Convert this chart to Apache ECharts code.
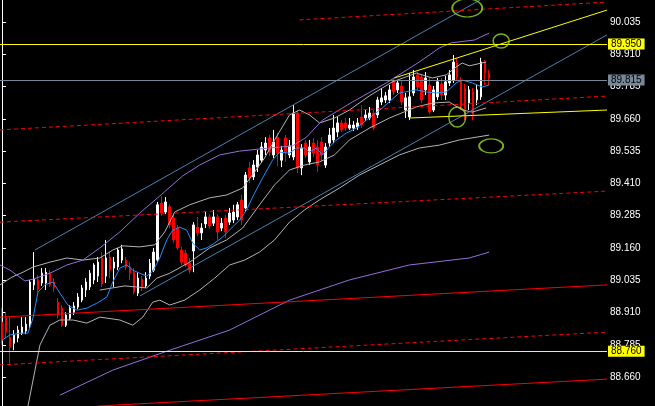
<!DOCTYPE html>
<html><head><meta charset="utf-8">
<script src="https://cdn.jsdelivr.net/npm/echarts@6/dist/echarts.min.js"></script>
<style>html,body{margin:0;padding:0;background:#000}#c{width:655px;height:406px}</style>
</head><body><div id="c"></div>
<script>
// ---- data ----
const Y_MIN = 88.548, Y_MAX = 90.120;
const TICKS = [88.660, 88.785, 88.910, 89.035, 89.160, 89.285, 89.410, 89.535, 89.660, 89.785, 89.910, 90.035];
const SLOTS = 152;
// [open, close, low, high]
const candles = [
[88.873,88.803,88.784,88.927],[88.888,88.834,88.811,88.911],[88.815,88.776,88.707,88.892],[88.791,88.823,88.764,88.842],
[88.811,88.842,88.795,88.858],[88.830,88.854,88.823,88.892],[88.838,88.865,88.826,88.892],[88.858,89.028,88.850,89.036],
[89.017,89.039,88.997,89.144],[89.036,89.001,88.989,89.055],[89.024,89.062,89.013,89.082],[89.024,89.066,88.997,89.082],
[89.062,89.017,89.009,89.074],[89.028,89.005,88.989,89.043],[88.950,88.900,88.888,88.966],[88.927,88.861,88.854,88.939],
[88.861,88.900,88.854,88.911],[88.888,88.927,88.881,88.939],[88.911,88.935,88.900,88.950],[88.931,88.970,88.923,88.985],
[88.958,89.005,88.950,89.017],[88.997,89.028,88.970,89.043],[89.009,89.062,88.997,89.074],[89.036,89.094,89.020,89.101],
[89.051,89.105,89.028,89.125],[89.121,89.020,89.009,89.144],[89.051,89.121,89.024,89.191],[89.125,89.074,89.043,89.144],
[89.082,89.105,89.009,89.125],[89.086,89.152,89.074,89.160],[89.113,89.156,89.101,89.172],[89.113,89.086,89.074,89.125],
[89.086,89.062,89.036,89.105],[89.066,88.989,88.981,89.082],[88.985,89.043,88.974,89.066],[89.039,89.005,88.993,89.051],
[89.013,89.043,89.005,89.066],[89.051,89.101,89.039,89.117],[89.074,89.144,89.066,89.160],[89.113,89.327,89.105,89.338],
[89.334,89.295,89.284,89.361],[89.299,89.338,89.291,89.357],[89.319,89.249,89.237,89.327],[89.276,89.191,89.179,89.288],
[89.237,89.160,89.152,89.249],[89.152,89.105,89.094,89.164],[89.140,89.094,89.086,89.152],[89.101,89.074,89.062,89.121],
[89.148,89.249,89.066,89.260],[89.241,89.218,89.206,89.280],[89.218,89.237,89.191,89.256],[89.253,89.280,89.237,89.299],
[89.280,89.245,89.233,89.291],[89.256,89.280,89.245,89.307],[89.280,89.222,89.191,89.291],[89.237,89.256,89.225,89.276],
[89.276,89.222,89.198,89.288],[89.260,89.295,89.249,89.315],[89.268,89.299,89.256,89.327],[89.280,89.327,89.268,89.338],
[89.346,89.268,89.249,89.365],[89.315,89.442,89.299,89.454],[89.470,89.431,89.411,89.493],[89.435,89.481,89.423,89.500],
[89.473,89.520,89.454,89.539],[89.500,89.551,89.489,89.570],[89.539,89.566,89.520,89.589],[89.586,89.531,89.516,89.597],
[89.520,89.570,89.508,89.617],[89.589,89.527,89.477,89.605],[89.500,89.539,89.473,89.555],[89.586,89.531,89.493,89.597],
[89.520,89.555,89.508,89.578],[89.512,89.682,89.500,89.713],[89.682,89.470,89.450,89.694],[89.470,89.547,89.442,89.562],
[89.566,89.520,89.508,89.578],[89.493,89.551,89.481,89.578],[89.566,89.527,89.512,89.586],[89.551,89.481,89.454,89.578],
[89.570,89.520,89.497,89.589],[89.481,89.551,89.470,89.566],[89.566,89.597,89.551,89.624],[89.578,89.624,89.566,89.675],
[89.609,89.644,89.589,89.667],[89.644,89.617,89.609,89.655],[89.644,89.624,89.613,89.663],[89.624,89.636,89.617,89.663],
[89.624,89.636,89.613,89.651],[89.628,89.644,89.617,89.663],[89.667,89.636,89.624,89.713],[89.663,89.675,89.651,89.694],
[89.663,89.682,89.655,89.706],[89.682,89.624,89.617,89.694],[89.675,89.733,89.663,89.745],[89.725,89.741,89.713,89.779],
[89.733,89.749,89.721,89.764],[89.733,89.772,89.721,89.791],[89.810,89.764,89.752,89.818],[89.772,89.799,89.760,89.810],
[89.787,89.725,89.713,89.810],[89.694,89.741,89.663,89.760],[89.667,89.745,89.655,89.837],[89.760,89.822,89.749,89.849],
[89.830,89.783,89.772,89.841],[89.822,89.733,89.721,89.834],[89.772,89.818,89.752,89.841],[89.791,89.686,89.679,89.822],
[89.694,89.772,89.686,89.787],[89.745,89.803,89.733,89.818],[89.795,89.752,89.733,89.818],[89.752,89.803,89.733,89.826],
[89.799,89.830,89.787,89.849],[89.810,89.880,89.799,89.907],[89.876,89.822,89.810,89.896],[89.810,89.706,89.694,89.822],
[89.779,89.667,89.655,89.795],[89.721,89.772,89.694,89.787],[89.764,89.675,89.655,89.779],[89.733,89.772,89.713,89.791],
[89.745,89.880,89.733,89.896],[89.880,89.837,89.791,89.888],[89.837,89.818,89.791,89.849]
];
// indicator lines: [bar index, price]
const maBlue = [[0,88.803],[2,88.823],[4.5,88.830],[6.5,88.830],[7.75,88.888],[9,88.989],[10.75,89.017],[12.75,89.028],[14.5,88.985],[16.5,88.939],[18.75,88.919],[21.25,88.927],[23.75,88.946],[26.25,88.970],[27.75,89.028],[29.5,89.082],[31.25,89.094],[32.75,89.074],[34.5,89.062],[36.25,89.051],[37.75,89.070],[39.5,89.121],[41.25,89.191],[42.75,89.229],[44.5,89.241],[46.25,89.229],[47.75,89.179],[49.5,89.152],[51.25,89.160],[53.25,89.179],[55.25,89.202],[57.75,89.241],[59.5,89.268],[61.25,89.307],[62.75,89.357],[65.25,89.431],[67.75,89.500],[69.5,89.531],[72,89.527],[73.75,89.547],[75.75,89.547],[77,89.531],[78.75,89.547],[80.25,89.520],[82,89.551],[83.75,89.578],[86.25,89.605],[88.75,89.624],[91.25,89.655],[95.25,89.702],[99.5,89.760],[103.75,89.772],[106.25,89.764],[108.75,89.760],[111.25,89.764],[113.75,89.799],[115.25,89.810],[117.75,89.799],[120.25,89.783],[122,89.791]];
const bandUpper = [[-0.5,89.017],[2.5,89.047],[5.25,89.066],[7.75,89.086],[12,89.105],[16.25,89.121],[20.25,89.113],[24.5,89.121],[27.75,89.152],[30.25,89.168],[34.5,89.164],[38.25,89.172],[40.75,89.222],[43.25,89.299],[47,89.327],[52,89.354],[56.25,89.365],[60.25,89.392],[63.25,89.454],[65.75,89.508],[68.25,89.578],[72,89.675],[74.5,89.694],[77,89.675],[79.5,89.644],[83.25,89.663],[87,89.694],[92,89.749],[97.75,89.803],[103.75,89.837],[107.75,89.818],[111.25,89.830],[113.75,89.861],[115.25,89.876],[117,89.865],[121.25,89.880]];
const bandLower = [[24.5,88.997],[30.75,89.013],[36.25,89.005],[38.75,89.043],[42,89.062],[47,89.105],[52,89.160],[56.25,89.191],[60.25,89.237],[64.5,89.327],[68.25,89.404],[72,89.462],[75.75,89.481],[79.5,89.493],[83.25,89.520],[87,89.578],[92,89.624],[97,89.663],[103.75,89.706],[107.75,89.721],[112,89.725],[115.25,89.694],[117.75,89.686],[121.25,89.702]];
const bandOuterLower = [[6.5,88.548],[9.5,88.784],[12,88.861],[14.5,88.881],[17.75,88.881],[21.25,88.869],[24.5,88.892],[29.5,88.881],[32.75,88.861],[35.25,88.892],[37.75,88.950],[39.5,88.958],[42,88.939],[45.75,88.958],[49.5,88.997],[53.25,89.043],[57,89.094],[60.75,89.113],[64.5,89.144],[68.25,89.191],[72,89.260],[75.75,89.307],[79.5,89.346],[84.5,89.392],[89.5,89.442],[94.5,89.481],[99.5,89.520],[104.5,89.547],[109.5,89.558],[114.5,89.578],[122,89.597]];
const purpleUpper = [[-0.5,89.094],[2,89.074],[5.75,89.032],[7.75,89.039],[12,89.062],[16.25,89.094],[20.25,89.113],[24.5,89.160],[29.5,89.222],[34.5,89.295],[39.5,89.361],[45.25,89.439],[49.5,89.481],[54.5,89.520],[59.5,89.535],[67,89.547],[72.75,89.555],[76.25,89.589],[80.25,89.655],[87.75,89.725],[96.25,89.799],[104.5,89.880],[109.5,89.934],[112.5,89.954],[118.25,89.965],[122,89.992]];
const purpleLower = [[14.5,88.590],[27.75,88.687],[42,88.764],[57,88.842],[72,88.958],[87,89.036],[102,89.094],[117,89.121],[122,89.144]];
// drawn objects: [start, end] as [bar index, price]
const channelUpper = [[8.25,89.152],[119.7,90.120]];
const channelMid = [[34.5,88.974],[151.5,89.985]];
const redDashed = [
  [[74.5,90.043],[151.5,90.112]],
  [[-0.5,89.617],[151.5,89.748]],
  [[-0.5,89.260],[151.5,89.380]],
  [[-0.5,88.707],[151.5,88.834]]
];
const redSolid = [
  [[-0.5,88.892],[151.5,89.017]],
  [[24,88.548],[151.5,88.652]]
];
const yellowTrend = [
  [[98.25,89.818],[151.5,90.081]],
  [[102,89.663],[151.5,89.694]]
];
const levels = [
  {value: 89.950, color: '#ffff00', bg: '#ffff00'},
  {value: 89.815, color: '#778899', bg: '#778899'},
  {value: 88.760, color: '#ffff00', bg: '#ffff00'}
];
const ellipses = [[116.5,90.089],[125,89.961],[114,89.667],[122.5,89.555]];
const ellipseSizes = [[30,18],[16,14],[17,20],[24,14]];

// ---- chart ----
const cats = [];
for (let i = 0; i < SLOTS; i++) cats.push(String(i));

function line(data, color, dashed, z) {
  return {type: 'line', xAxisIndex: 1, yAxisIndex: 0, data: data, showSymbol: false, symbol: 'none',
    silent: true, z: z || 3, lineStyle: {color: color, width: 1, type: dashed ? [4, 3] : 'solid'}};
}
const series = [];
series.push({
  type: 'candlestick', xAxisIndex: 0, yAxisIndex: 0, data: candles, barWidth: 2, z: 2,
  itemStyle: {color: '#ffffff', color0: '#ff0000', borderColor: '#ffffff', borderColor0: '#ff0000', borderWidth: 1},
  markLine: {
    symbol: ['none', 'none'], silent: true, animation: false,
    data: levels.map(l => ({
      yAxis: l.value,
      lineStyle: {color: l.color, width: 1, type: 'solid'},
      label: {show: true, position: 'end', distance: 1, formatter: () => l.value.toFixed(3),
        color: '#000', backgroundColor: l.bg, padding: [1, 3, 0, 3],
        fontFamily: 'Liberation Sans', fontSize: 10}
    }))
  }
});
series.push(line(bandOuterLower, '#b4b4b4'));
series.push(line(bandUpper, '#b4b4b4'));
series.push(line(bandLower, '#b4b4b4'));
series.push(line(purpleUpper, '#9370db'));
series.push(line(purpleLower, '#9370db'));
series.push(line(maBlue, '#1e90ff', false, 4));
series.push(line(channelUpper, '#4682b4'));
series.push(line(channelMid, '#4682b4'));
redDashed.forEach(d => series.push(line(d, '#ff0000', true)));
redSolid.forEach(d => series.push(line(d, '#ff0000')));
yellowTrend.forEach(d => series.push(line(d, '#ffff00')));
series.push({
  type: 'scatter', xAxisIndex: 1, yAxisIndex: 0, silent: true, z: 5,
  data: ellipses.map((e, k) => ({value: e, symbolSize: ellipseSizes[k]})),
  symbol: 'circle',
  itemStyle: {color: 'rgba(0,0,0,0)', borderColor: '#99dd22', borderWidth: 1.5}
});

const chart = echarts.init(document.getElementById('c'), null, {renderer: 'canvas'});
chart.setOption({
  animation: false,
  backgroundColor: '#000000',
  grid: {left: 0, right: 48, top: 0, bottom: 0, containLabel: false},
  xAxis: [
    {type: 'category', data: cats, show: false, boundaryGap: true},
    {type: 'value', min: -0.5, max: SLOTS - 0.5, show: false}
  ],
  yAxis: {
    type: 'value', position: 'right', min: Y_MIN, max: Y_MAX, scale: true,
    axisLine: {show: true, lineStyle: {color: '#ffffff', width: 1}},
    axisTick: {show: true, length: 4, customValues: TICKS, lineStyle: {color: '#ffffff'}},
    axisLabel: {show: true, customValues: TICKS, margin: 3, color: '#ffffff',
      fontFamily: 'Liberation Sans', fontSize: 10, formatter: v => Number(v).toFixed(3)},
    splitLine: {show: false}
  },
  series: series
});
</script></body></html>
